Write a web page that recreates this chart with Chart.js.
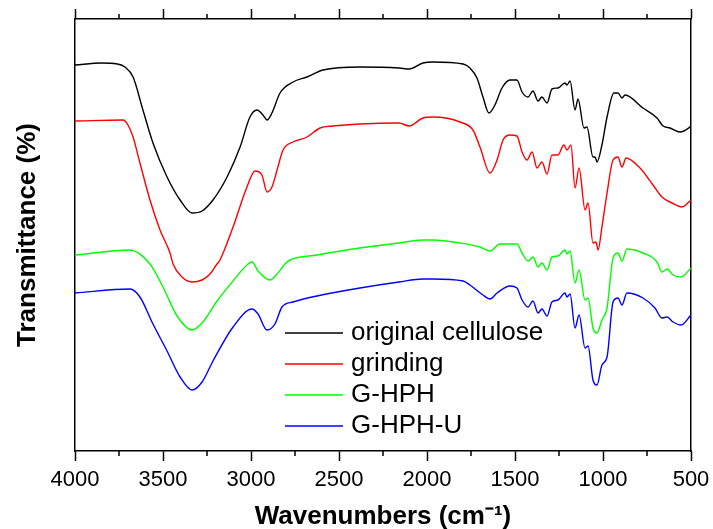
<!DOCTYPE html>
<html>
<head>
<meta charset="utf-8">
<script src="https://cdn.jsdelivr.net/npm/chart.js@4"></script>
<style>
  body { margin: 0; background: #fff; }
  canvas { display: block; }
</style>
</head>
<body>
<canvas id="chart" width="713" height="529"></canvas>
<script>
// Espectros FTIR (eje Y en unidades arbitrarias)
var seriesNames = ["original cellulose", "grinding", "G-HPH", "G-HPH-U"];
var colores = ["#000000", "#ff0000", "#00ff00", "#0000ff"];

var originalWn = [4000, 3850, 3760, 3716, 3670, 3614, 3557, 3477, 3403, 3335, 3278, 3216, 3136, 3062, 3006, 2966, 2932, 2909, 2881, 2835, 2761, 2682, 2591, 2381, 2159, 2102, 2023, 1966, 1795, 1756, 1716, 1682, 1648, 1614, 1574, 1528, 1489, 1460, 1426, 1398, 1369, 1347, 1318, 1290, 1256, 1216, 1205, 1187, 1159, 1142, 1108, 1091, 1057, 1045, 1034, 1006, 977, 938, 915, 892, 875, 773, 693, 659, 619, 562, 506, 500];
var originalT = [386, 388, 387, 384, 374, 341, 308, 274, 251, 238, 240, 251, 274, 304, 334, 341, 336, 331, 338, 358, 369, 374, 381, 384, 383, 382, 388, 389, 387, 383, 373, 354, 338, 346, 363, 371, 371, 359, 354, 360, 350, 354, 348, 362, 363, 368, 366, 370, 341, 352, 323, 324, 294, 294, 289, 306, 334, 358, 358, 353, 356, 343, 333, 325, 323, 319, 324, 325];

var grindingWn = [4000, 3727, 3699, 3670, 3631, 3574, 3517, 3460, 3443, 3392, 3335, 3278, 3233, 3193, 3176, 3102, 3023, 2977, 2938, 2909, 2881, 2852, 2818, 2761, 2682, 2608, 2534, 2381, 2159, 2102, 2023, 1966, 1812, 1739, 1699, 1642, 1602, 1568, 1528, 1489, 1460, 1432, 1403, 1375, 1347, 1318, 1290, 1256, 1222, 1205, 1182, 1159, 1136, 1102, 1085, 1057, 1040, 1028, 1006, 977, 943, 915, 892, 869, 790, 716, 665, 608, 551, 500];
var grindingT = [330, 331, 326, 314, 288, 251, 221, 198, 187, 174, 169, 171, 177, 187, 191, 224, 264, 280, 276, 259, 264, 281, 301, 309, 314, 323, 325, 327, 328, 325, 333, 334, 329, 321, 304, 278, 291, 311, 316, 315, 299, 291, 299, 283, 289, 277, 296, 296, 306, 301, 306, 263, 283, 241, 248, 208, 209, 201, 224, 258, 291, 294, 284, 293, 283, 266, 254, 248, 244, 251];

var ghphWn = [4000, 3688, 3574, 3500, 3420, 3335, 3273, 3193, 3102, 3017, 2994, 2960, 2892, 2852, 2807, 2778, 2625, 2381, 2159, 2023, 1966, 1812, 1699, 1642, 1585, 1489, 1460, 1426, 1398, 1369, 1347, 1318, 1290, 1256, 1216, 1205, 1187, 1159, 1136, 1102, 1085, 1057, 1034, 1006, 977, 943, 915, 892, 864, 773, 693, 665, 636, 602, 557, 500];
var ghphT = [196, 201, 187, 164, 135, 121, 129, 150, 170, 187, 189, 180, 171, 177, 187, 191, 196, 203, 208, 211, 211, 208, 204, 200, 207, 207, 198, 190, 194, 184, 188, 181, 194, 195, 201, 197, 200, 168, 181, 151, 153, 123, 118, 131, 143, 193, 198, 190, 202, 198, 189, 179, 182, 176, 174, 183];

var ghphuWn = [4000, 3688, 3631, 3557, 3477, 3403, 3335, 3278, 3216, 3102, 2994, 2960, 2909, 2864, 2824, 2761, 2625, 2381, 2159, 2023, 1966, 1795, 1756, 1682, 1642, 1602, 1528, 1489, 1460, 1426, 1398, 1369, 1347, 1318, 1290, 1256, 1216, 1205, 1187, 1159, 1136, 1102, 1085, 1057, 1034, 1006, 977, 943, 915, 892, 864, 773, 705, 665, 636, 602, 557, 500];
var ghphuT = [158, 162, 154, 127, 100, 74, 61, 69, 90, 124, 142, 137, 121, 127, 144, 149, 155, 163, 169, 172, 172, 170, 166, 156, 152, 158, 165, 163, 151, 144, 150, 138, 142, 135, 149, 151, 158, 154, 157, 123, 136, 103, 105, 71, 66, 86, 94, 149, 153, 146, 158, 153, 143, 133, 134, 129, 126, 136];

var xTicks = [4000, 3500, 3000, 2500, 2000, 1500, 1000, 500];
var xMinorTicks = [3750, 3250, 2750, 2250, 1750, 1250, 750];

var fuente = "'Liberation Sans', Arial, sans-serif";

function pares(wn, t) {
    return wn.map(function (w, i) { return { x: w, y: t[i] }; });
}

var allData = [
    pares(originalWn, originalT),
    pares(grindingWn, grindingT),
    pares(ghphWn, ghphT),
    pares(ghphuWn, ghphuT)
];

var datasets = seriesNames.map(function (nombre, i) {
    return {
        label: nombre,
        data: allData[i],
        borderColor: colores[i],
        borderWidth: 1.4,
        pointRadius: 0,
        cubicInterpolationMode: "monotone",
        fill: false
    };
});

// ticks menores y leyenda dentro del área
var extras = {
    id: "extras",
    afterDraw: function (chart) {
        var ctx = chart.ctx;
        var area = chart.chartArea;
        ctx.save();
        ctx.strokeStyle = "#000";
        ctx.lineWidth = 1.5;
        xMinorTicks.forEach(function (v) {
            var px = chart.scales.x.getPixelForValue(v);
            ctx.beginPath();
            ctx.moveTo(px, area.bottom);
            ctx.lineTo(px, area.bottom + 5);
            ctx.moveTo(px, area.top);
            ctx.lineTo(px, area.top - 5);
            ctx.stroke();
        });

        ctx.font = "26px " + fuente;
        ctx.textBaseline = "middle";
        ctx.fillStyle = "#000";
        chart.data.datasets.forEach(function (ds, i) {
            var y = area.top + 314 + i * 31;
            ctx.strokeStyle = ds.borderColor;
            ctx.lineWidth = 1.5;
            ctx.beginPath();
            ctx.moveTo(area.left + 210, y);
            ctx.lineTo(area.left + 268, y);
            ctx.stroke();
            ctx.fillText(ds.label, area.left + 276, y);
        });
        ctx.restore();
    }
};

new Chart(document.getElementById("chart").getContext("2d"), {
    type: "line",
    data: { datasets: datasets },
    plugins: [extras],
    options: {
        responsive: false,
        animation: false,
        layout: { padding: 0 },
        plugins: {
            legend: { display: false },
            tooltip: { enabled: false }
        },
        scales: {
            x: {
                type: "linear",
                position: "bottom",
                min: 500,
                max: 4000,
                reverse: true,
                afterBuildTicks: function (s) { s.ticks = xTicks.map(function (v) { return { value: v }; }); },
                ticks: {
                    autoSkip: false,
                    maxRotation: 0,
                    padding: 6,
                    color: "#000",
                    font: { family: fuente, size: 22 },
                    callback: function (v) { return String(v); }
                },
                grid: { drawOnChartArea: false, tickLength: 10, tickWidth: 1.5, tickColor: "#000" },
                border: { color: "#000", width: 1.5 },
                title: {
                    display: true,
                    text: "Wavenumbers (cm\u207B\u00B9)",
                    color: "#000",
                    font: { family: fuente, size: 26, weight: "bold" },
                    padding: { top: 0, bottom: -3 }
                },
                afterFit: function (s) {
                    s.height = 78;
                    s.paddingLeft = 0;
                    s.paddingRight = 0;
                }
            },
            x2: {
                type: "linear",
                position: "top",
                min: 500,
                max: 4000,
                reverse: true,
                afterBuildTicks: function (s) { s.ticks = xTicks.map(function (v) { return { value: v }; }); },
                ticks: { display: false },
                grid: { drawOnChartArea: false, tickLength: 10, tickWidth: 1.5, tickColor: "#000" },
                border: { color: "#000", width: 1.5 },
                afterFit: function (s) {
                    s.height = 19;
                    s.paddingLeft = 0;
                    s.paddingRight = 0;
                }
            },
            y: {
                position: "left",
                min: 0,
                max: 432,
                ticks: { display: false },
                grid: { drawOnChartArea: false, drawTicks: false },
                border: { color: "#000", width: 1.5 },
                title: {
                    display: true,
                    text: "Transmittance (%)",
                    color: "#000",
                    font: { family: fuente, size: 26, weight: "bold" },
                    padding: { top: 12, bottom: 0 }
                },
                afterFit: function (s) { s.width = 75; }
            },
            y2: {
                position: "right",
                min: 0,
                max: 432,
                ticks: { display: false },
                grid: { drawOnChartArea: false, drawTicks: false },
                border: { color: "#000", width: 1.5 },
                afterFit: function (s) { s.width = 22; }
            }
        }
    }
});
</script>
</body>
</html>
